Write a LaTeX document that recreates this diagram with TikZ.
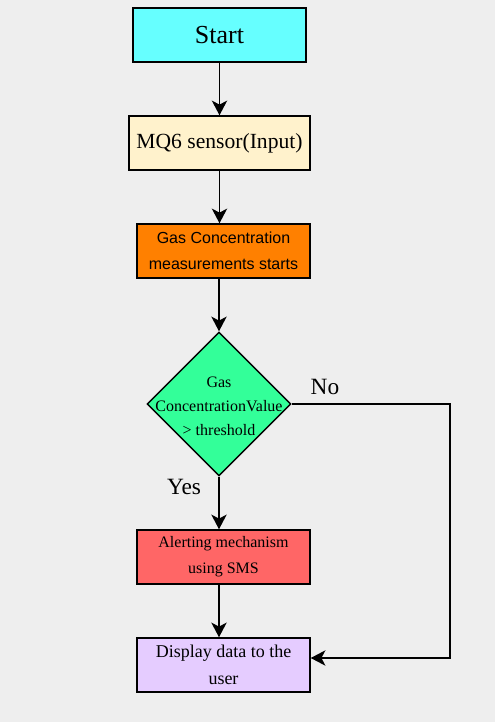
\documentclass[tikz,border=0pt]{standalone}
\usepackage{fontspec}
\setmainfont{Liberation Serif}
\setsansfont{Liberation Sans}
\usetikzlibrary{arrows.meta,positioning,shapes.geometric}
\definecolor{bgcol}{RGB}{238,238,238}
\definecolor{startC}{RGB}{102,255,255}
\definecolor{inputC}{RGB}{255,242,204}
\definecolor{measC}{RGB}{255,128,0}
\definecolor{decC}{RGB}{51,255,153}
\definecolor{alertC}{RGB}{255,102,102}
\definecolor{dispC}{RGB}{229,204,255}
\tikzset{
  proc/.style={draw=black,line width=1.1pt,inner sep=0pt,align=center,
    minimum width=129.75pt,minimum height=40.5pt},
  decision/.style={diamond,draw=black,line width=1.1pt,fill=decC,inner sep=0pt,
    minimum width=108pt,minimum height=108pt},
  arr/.style={-{Stealth[length=11pt,width=11.5pt,inset=3pt]},line width=1.2pt},
  tag/.style={font=\fontsize{17.5}{19}\selectfont},
}
\begin{document}
\begin{tikzpicture}[x=0.75pt,y=-0.75pt]
\fill[bgcol] (0,0) rectangle (495,722);
\useasboundingbox (0,0) rectangle (495,722);
% boxes
\node[proc,fill=startC,font=\fontsize{19.5}{21}\selectfont] (start) at (219.5,35) {Start};
\node[proc,fill=inputC,minimum width=135.75pt,font=\fontsize{16.2}{18}\selectfont] (mq) at (219.5,143) {MQ6 sensor(Input)};
\node[proc,fill=measC,font=\sffamily\fontsize{12}{19.5}\selectfont] (gas) at (223.5,251)
  {Gas Concentration\\measurements starts};
\node[decision,label={[align=center,font=\fontsize{12}{18}\selectfont,yshift=-1.5pt]center:Gas\\ConcentrationValue\\\textgreater{} threshold}] (dia) at (219,404) {};
\node[proc,fill=alertC,font=\fontsize{12}{19.5}\selectfont] (alert) at (223.5,557)
  {Alerting mechanism\\using SMS};
\node[proc,fill=dispC,font=\fontsize{13.5}{20.5}\selectfont] (disp) at (223.5,665)
  {Display data to the\\user};
% labels
\node[tag] (no) at (325,387) {No};
\node[tag] (yes) at (184,487) {Yes};
% connectors
\coordinate (noturn) at (450,404);
\draw[arr] (start.south) -- (start.south |- mq.north);
\draw[arr] (mq.south) -- (mq.south |- gas.north);
\draw[arr] (dia.north |- gas.south) -- (dia.north);
\draw[arr] (dia.south) -- (dia.south |- alert.north);
\draw[arr] (dia.south |- alert.south) -- (dia.south |- disp.north);
\draw[arr] (dia.east) -- (noturn) |- ([yshift=5.25pt]disp.east);
\end{tikzpicture}
\end{document}
